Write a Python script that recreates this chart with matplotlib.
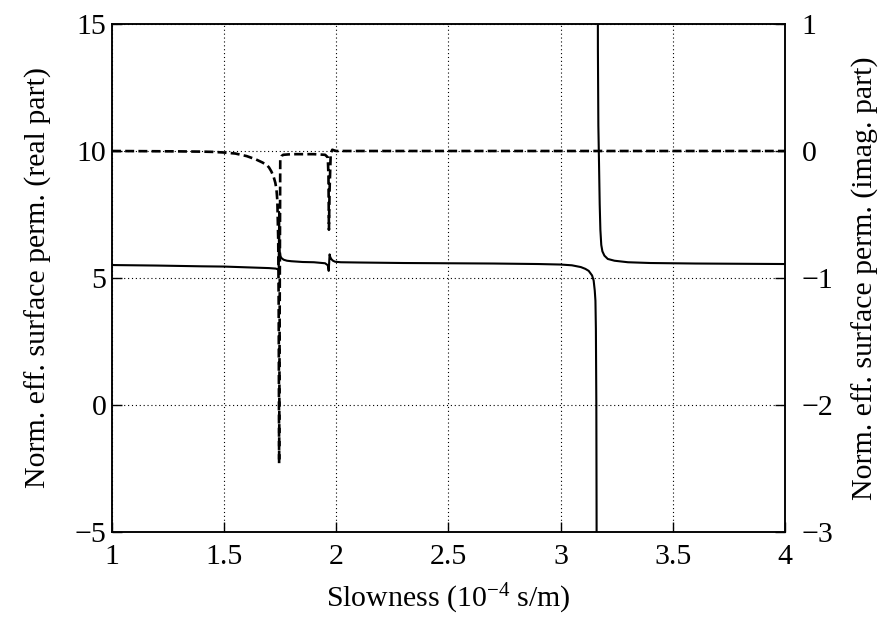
import matplotlib
matplotlib.use("Agg")
import matplotlib.pyplot as plt
import numpy as np

plt.rcParams['font.family'] = ['Liberation Serif', 'DejaVu Serif']
plt.rcParams['mathtext.fontset'] = 'custom'
plt.rcParams['mathtext.rm'] = 'Liberation Serif'
plt.rcParams['mathtext.it'] = 'Liberation Serif:italic'
plt.rcParams['axes.unicode_minus'] = True

# Real part (left axis), branch before the pole near 3.16
real_x_a = [1.0, 1.2, 1.4, 1.5, 1.6, 1.7, 1.73, 1.743, 1.745, 1.746, 1.748, 1.751,
            1.756, 1.765, 1.78, 1.80, 1.85, 1.90, 1.95, 1.962, 1.966, 1.968, 1.970,
            1.973, 1.978, 1.985, 1.995, 2.02, 2.1, 2.3, 2.5, 2.7, 2.9, 3.0, 3.05,
            3.09, 3.11, 3.125, 3.14, 3.147, 3.152, 3.155, 3.157, 3.159, 3.160, 3.161]
real_y_a = [5.51, 5.49, 5.46, 5.45, 5.42, 5.39, 5.37, 5.33, 7.6, 6.5, 6.0, 5.85,
            5.78, 5.72, 5.68, 5.66, 5.63, 5.62, 5.58, 5.50, 5.28, 5.60, 5.93,
            5.82, 5.74, 5.68, 5.64, 5.62, 5.61, 5.59, 5.58, 5.57, 5.55, 5.53, 5.50,
            5.43, 5.36, 5.28, 5.10, 4.90, 4.50, 4.10, 3.0, 0.0, -4.0, -9.0]
# Real part, branch after the pole
real_x_b = [3.165, 3.166, 3.168, 3.171, 3.174, 3.177, 3.181, 3.186, 3.195, 3.21,
            3.24, 3.3, 3.4, 3.6, 3.8, 4.0]
real_y_b = [20.0, 14.0, 11.0, 9.5, 7.9, 6.9, 6.3, 6.05, 5.88, 5.75,
            5.68, 5.62, 5.59, 5.57, 5.56, 5.55]

# Imaginary part (right axis)
imag_x = [1.0, 1.2, 1.3, 1.4, 1.45, 1.5, 1.55, 1.6, 1.64, 1.67, 1.69, 1.70, 1.71,
          1.72, 1.728, 1.733, 1.737, 1.741, 1.743, 1.745, 1.748, 1.750, 1.756, 1.763,
          1.80, 1.90, 1.95, 1.962, 1.965, 1.967, 1.970, 1.975, 1.982, 1.99, 2.0,
          2.5, 3.0, 3.5, 4.0]
imag_y = [0.0, -0.002, -0.003, -0.005, -0.007, -0.012, -0.02, -0.04, -0.065, -0.09,
          -0.11, -0.13, -0.16, -0.2, -0.25, -0.3, -0.39, -0.7, -1.2, -2.46, -1.0,
          -0.07, -0.04, -0.03, -0.025, -0.025, -0.03, -0.05, -0.2, -0.62, -0.3, -0.02,
          0.01, 0.005, 0.0, 0.0, 0.0, 0.0, 0.0]

x_ticks = [1, 1.5, 2, 2.5, 3, 3.5, 4]
x_ticklabels = ['1', '1.5', '2', '2.5', '3', '3.5', '4']
yl_ticks = [-5, 0, 5, 10, 15]
yr_ticks = [-3, -2, -1, 0, 1]

FS = 21.5

fig = plt.figure(figsize=(8.9, 6.27), dpi=100)
ax = fig.add_axes([112/890, 1-532/627, (785-112)/890, (532-24)/627])
ax2 = ax.twinx()

ax.plot(real_x_a, real_y_a, color='black', lw=1.5, solid_joinstyle='round')
ax.plot(real_x_b, real_y_b, color='black', lw=1.5, solid_joinstyle='round')
ax2.plot(imag_x, imag_y, color='black', lw=1.9, linestyle=(0, (3.4, 1.6)))

ax.set_xlim(1, 4)
ax.set_ylim(-5, 15)
ax2.set_ylim(-3, 1)
ax.set_xticks(x_ticks)
ax.set_xticklabels(x_ticklabels)
ax.set_yticks(yl_ticks)
ax2.set_yticks(yr_ticks)

ax.grid(True, linestyle=(0, (1, 2.5)), color='black', lw=0.8)
ax.tick_params(axis='both', direction='in', length=7, width=1, labelsize=FS,
               top=False, right=False, color='black')
ax.tick_params(axis='x', pad=9)
ax.tick_params(axis='y', pad=4)
ax2.tick_params(axis='y', direction='in', length=7, width=1, labelsize=FS, pad=12)

for sp in list(ax.spines.values()) + list(ax2.spines.values()):
    sp.set_linewidth(1.1)
    sp.set_color('black')

ax.set_xlabel('Slowness (10$^{\\mathregular{−4}}$ s/m)', fontsize=FS, labelpad=8)
ax.set_ylabel('Norm. eff. surface perm. (real part)', fontsize=FS, labelpad=16)
ax2.set_ylabel('Norm. eff. surface perm. (imag. part)', fontsize=FS, rotation=90,
               labelpad=13)

fig.savefig('out.png', dpi=100)
